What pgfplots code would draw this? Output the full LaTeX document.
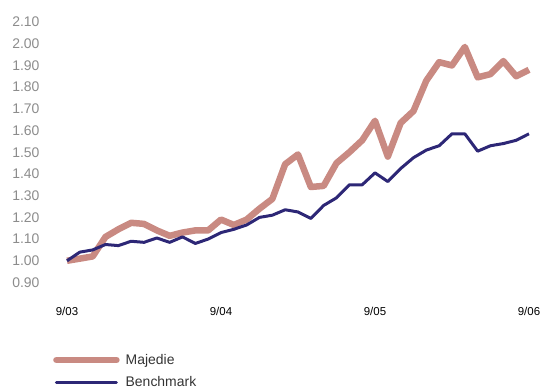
\documentclass[border=0pt]{standalone}
\usepackage{fontspec}
\setmainfont{Liberation Sans}
\usepackage{pgfplots}
\pgfplotsset{compat=1.18}
\definecolor{majedie}{HTML}{C98A82}
\definecolor{bench}{HTML}{2D2776}
\definecolor{ylab}{HTML}{8C8C8C}
\definecolor{txt}{HTML}{333333}
\begin{document}
\begin{tikzpicture}
\path[use as bounding box] (-67bp,-106.5bp) rectangle (477bp,282.5bp);
\begin{axis}[
  scale only axis,
  width=462bp, height=260.5bp,
  at={(0,0)}, anchor=south west,
  xmin=0, xmax=36, ymin=0.9, ymax=2.1,
  axis line style={draw=none},
  major tick length=0pt,
  xtick={0,12,24,36},
  xticklabels={9/03,9/04,9/05,9/06},
  ytick={0.9,1.0,...,2.1},
  /pgf/number format/assume math mode=true,
  /pgf/number format/.cd, fixed, fixed zerofill, precision=2, /pgfplots/.cd,
  yticklabel style={font=\fontsize{14}{16}\selectfont, text=ylab, anchor=east, xshift=-24bp},
  xticklabel style={font=\fontsize{11.5}{13}\selectfont, text=black, anchor=center, yshift=-29bp},
  clip=false,
  legend style={draw=none, fill=none, at={(-14bp,-69.5bp)}, anchor=north west,
    font=\fontsize{14}{16}\selectfont, text=txt, row sep=6.5bp, inner sep=0pt,
    /tikz/every odd column/.append style={column sep=0pt}},
  legend cell align=left,
  legend image code/.code={\draw[#1, line cap=round] (0bp,0bp) -- (60bp,0bp);},
]
\addplot[majedie, line width=6.5bp, line join=round] coordinates {
(0,1.00) (1,1.01) (2,1.02) (3,1.11) (4,1.145) (5,1.175) (6,1.17) (7,1.14)
(8,1.115) (9,1.13) (10,1.14) (11,1.14) (12,1.19) (13,1.165) (14,1.19) (15,1.24)
(16,1.285) (17,1.445) (18,1.49) (19,1.34) (20,1.345) (21,1.45) (22,1.50) (23,1.555)
(24,1.645) (25,1.48) (26,1.635) (27,1.69) (28,1.83) (29,1.915) (30,1.90) (31,1.985)
(32,1.845) (33,1.86) (34,1.92) (35,1.85) (36,1.88)};
\addlegendentry{\hspace{4bp}Majedie}
\addplot[bench, line width=3bp, line join=round] coordinates {
(0,1.00) (1,1.04) (2,1.05) (3,1.075) (4,1.07) (5,1.09) (6,1.085) (7,1.105)
(8,1.085) (9,1.11) (10,1.08) (11,1.10) (12,1.13) (13,1.145) (14,1.165) (15,1.20)
(16,1.21) (17,1.235) (18,1.225) (19,1.195) (20,1.255) (21,1.29) (22,1.35) (23,1.35)
(24,1.405) (25,1.365) (26,1.425) (27,1.475) (28,1.51) (29,1.53) (30,1.585) (31,1.585)
(32,1.505) (33,1.53) (34,1.54) (35,1.555) (36,1.585)};
\addlegendentry{\hspace{4bp}Benchmark}
\end{axis}
\end{tikzpicture}
\end{document}
